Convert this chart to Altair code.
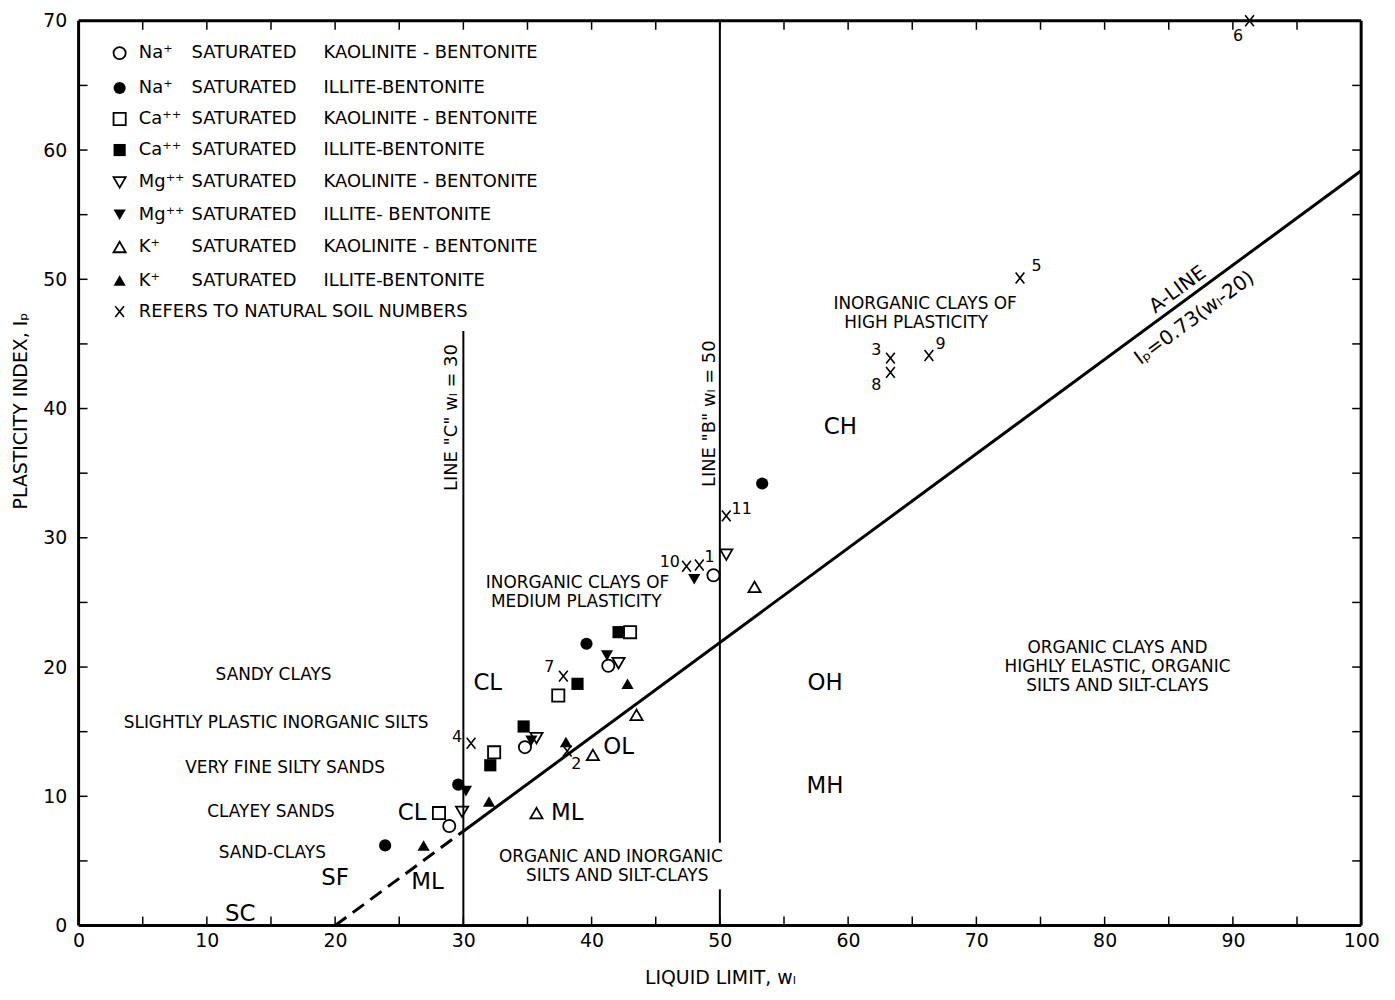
import altair as alt
import pandas as pd

W, H = 1290, 910
FONT = "DejaVu Sans"

# ---------------- data ----------------
# laboratory mixtures (liquid limit, plasticity index)
na_kao_x = [28.9, 34.8, 41.3, 49.5]
na_kao_y = [7.7, 13.8, 20.1, 27.1]
na_ill_x = [23.9, 29.6, 39.6, 53.3]
na_ill_y = [6.2, 10.9, 21.8, 34.2]
ca_kao_x = [28.1, 32.4, 37.4, 43.0]
ca_kao_y = [8.7, 13.4, 17.8, 22.7]
ca_ill_x = [32.1, 34.7, 38.9, 42.1]
ca_ill_y = [12.4, 15.4, 18.7, 22.7]
mg_kao_x = [29.9, 35.7, 42.1, 50.5]
mg_kao_y = [8.8, 14.5, 20.3, 28.7]
mg_ill_x = [30.2, 35.3, 41.2, 48.0]
mg_ill_y = [10.4, 14.3, 20.9, 26.8]
k_kao_x = [35.7, 40.1, 43.5, 52.7]
k_kao_y = [8.7, 13.2, 16.3, 26.2]
k_ill_x = [26.9, 32.0, 38.0, 42.8]
k_ill_y = [6.2, 9.6, 14.2, 18.7]

# natural soils
soil_ids = ["1", "2", "3", "4", "5", "6", "7", "8", "9", "10", "11"]
soil_x = [48.4, 38.1, 63.3, 30.6, 73.4, 91.3, 37.8, 63.3, 66.3, 47.4, 50.5]
soil_y = [27.9, 13.5, 43.9, 14.1, 50.1, 70.0, 19.3, 42.8, 44.1, 27.8, 31.7]
soil_label_x = [49.2, 38.8, 62.2, 29.5, 74.7, 90.4, 36.7, 62.2, 67.2, 46.1, 51.7]
soil_label_y = [28.5, 12.5, 44.5, 14.6, 51.0, 68.8, 20.0, 41.8, 45.0, 28.1, 32.2]

# reference lines
a_dash_x = [20, 30]
a_dash_y = [0, 7.3]
a_solid_x = [30, 100]
a_solid_y = [7.3, 58.4]
vline_x = [30, 50, 50]
vline_y0 = [0, 0, 6.4]
vline_y1 = [46, 2.8, 70]

# legend
legend_ions = ["Na\u207a", "Na\u207a", "Ca\u207a\u207a", "Ca\u207a\u207a",
               "Mg\u207a\u207a", "Mg\u207a\u207a", "K\u207a", "K\u207a"]
legend_mid = ["SATURATED"] * 8
legend_clays = ["KAOLINITE - BENTONITE", "ILLITE-BENTONITE", "KAOLINITE - BENTONITE",
                "ILLITE-BENTONITE", "KAOLINITE - BENTONITE", "ILLITE- BENTONITE",
                "KAOLINITE - BENTONITE", "ILLITE-BENTONITE"]
legend_soil_text = "REFERS TO NATURAL SOIL NUMBERS"
legend_row_y = [67.5, 64.8, 62.4, 60.0, 57.5, 55.0, 52.5, 49.9, 47.5]
legend_marker_x = 3.2
legend_ion_x = 4.7
legend_mid_x = 8.8
legend_clay_x = 19.1

# zone annotations
small_text = ["INORGANIC CLAYS OF", "HIGH PLASTICITY",
              "INORGANIC CLAYS OF", "MEDIUM PLASTICITY",
              "ORGANIC CLAYS AND", "HIGHLY ELASTIC, ORGANIC", "SILTS AND SILT-CLAYS",
              "ORGANIC AND INORGANIC", "SILTS AND SILT-CLAYS",
              "SANDY CLAYS", "SLIGHTLY PLASTIC INORGANIC SILTS", "VERY FINE SILTY SANDS",
              "CLAYEY SANDS", "SAND-CLAYS"]
small_x = [66.0, 65.3, 38.9, 38.8, 81.0, 81.0, 81.0, 41.5, 42.0, 15.2, 15.4, 16.1, 15.0, 15.1]
small_y = [48.1, 46.6, 26.5, 25.0, 21.5, 20.0, 18.5, 5.3, 3.8, 19.4, 15.7, 12.2, 8.8, 5.6]

big_text = ["CH", "OH", "MH", "CL", "OL", "ML", "CL", "SF", "ML", "SC"]
big_x = [59.4, 58.2, 58.2, 31.9, 42.1, 38.1, 26.0, 20.0, 27.2, 12.6]
big_y = [38.6, 18.8, 10.8, 18.8, 13.8, 8.7, 8.7, 3.7, 3.4, 0.9]

line_label_text = ['LINE "C" w\u2097 = 30', 'LINE "B" w\u2097 = 50']
line_label_x = [29.1, 49.2]
line_label_y = [39.3, 39.6]

aline_text = ["A-LINE", "I\u209a=0.73(w\u2097-20)"]
aline_x = [85.7, 87.0]
aline_y = [49.2, 47.0]

tick_x = [5, 10, 15, 20, 25, 30, 35, 40, 45, 50, 55, 60, 65, 70, 75, 80, 85, 90, 95]
tick_y = [5, 10, 15, 20, 25, 30, 35, 40, 45, 50, 55, 60, 65]

# ---------------- build tables ----------------
X_PATH = "M-0.8,-1L0.8,1M-0.8,1L0.8,-1"
series = [
    ("circle", False, na_kao_x, na_kao_y),
    ("circle", True, na_ill_x, na_ill_y),
    ("square", False, ca_kao_x, ca_kao_y),
    ("square", True, ca_ill_x, ca_ill_y),
    ("triangle-down", False, mg_kao_x, mg_kao_y),
    ("triangle-down", True, mg_ill_x, mg_ill_y),
    ("triangle-up", False, k_kao_x, k_kao_y),
    ("triangle-up", True, k_ill_x, k_ill_y),
]
rows = []
for i, (shape, filled, xs_, ys_) in enumerate(series):
    for a, b in zip(xs_, ys_):
        rows.append({"x": a, "y": b, "shape": shape, "filled": filled})
    rows.append({"x": legend_marker_x, "y": legend_row_y[i], "shape": shape, "filled": filled})
pts = pd.DataFrame(rows)
open_pts = pts[~pts["filled"]]
fill_pts = pts[pts["filled"]]

soil_df = pd.DataFrame({"x": soil_x + [legend_marker_x], "y": soil_y + [legend_row_y[8]]})
soil_lab = pd.DataFrame({"x": soil_label_x, "y": soil_label_y, "t": soil_ids})

xs = alt.Scale(domain=[0, 100], nice=False, zero=False)
ys = alt.Scale(domain=[0, 70], nice=False, zero=False)

x_axis = alt.Axis(values=list(range(0, 101, 10)), tickSize=0, domain=False, grid=False,
                  labelFont=FONT, labelFontSize=19, labelPadding=6, labelFlush=False,
                  labelColor="black", title="LIQUID LIMIT, w\u2097", titleFont=FONT,
                  titleFontSize=19, titleFontWeight="normal", titlePadding=18,
                  titleColor="black")
y_axis = alt.Axis(values=list(range(0, 71, 10)), tickSize=0, domain=False, grid=False,
                  labelFont=FONT, labelFontSize=19, labelPadding=12, labelFlush=False,
                  labelColor="black", title="PLASTICITY INDEX, I\u209a", titleFont=FONT,
                  titleFontSize=19, titleFontWeight="normal", titleColor="black",
                  titleX=-58, titleY=392, titleAngle=270, titleAlign="center",
                  titleBaseline="middle")


def X(f="x"):
    return alt.X(f, type="quantitative", scale=xs, axis=x_axis)


def Y(f="y"):
    return alt.Y(f, type="quantitative", scale=ys, axis=y_axis)


layers = []
one = pd.DataFrame({"k": [0]})

# frame
layers.append(alt.Chart(one).mark_rule(color="black", strokeWidth=3).encode(
    x=alt.value(0), x2=alt.value(W), y=alt.value(0)))
layers.append(alt.Chart(one).mark_rule(color="black", strokeWidth=3).encode(
    x=alt.value(0), x2=alt.value(W), y=alt.value(H)))
layers.append(alt.Chart(one).mark_rule(color="black", strokeWidth=3).encode(
    y=alt.value(0), y2=alt.value(H), x=alt.value(0)))
layers.append(alt.Chart(one).mark_rule(color="black", strokeWidth=3).encode(
    y=alt.value(0), y2=alt.value(H), x=alt.value(W)))

# inward ticks on all four sides
tx = pd.DataFrame({"x": tick_x})
ty = pd.DataFrame({"y": tick_y})
layers.append(alt.Chart(tx).mark_rule(color="black", strokeWidth=1.5).encode(
    x=X(), y=alt.value(H), y2=alt.value(H - 9)))
layers.append(alt.Chart(tx).mark_rule(color="black", strokeWidth=1.5).encode(
    x=X(), y=alt.value(0), y2=alt.value(9)))
layers.append(alt.Chart(ty).mark_rule(color="black", strokeWidth=1.5).encode(
    y=Y(), x=alt.value(0), x2=alt.value(9)))
layers.append(alt.Chart(ty).mark_rule(color="black", strokeWidth=1.5).encode(
    y=Y(), x=alt.value(W), x2=alt.value(W - 9)))

# vertical lines C and B
vl = pd.DataFrame({"x": vline_x, "y": vline_y0, "y2": vline_y1})
layers.append(alt.Chart(vl).mark_rule(color="black", strokeWidth=2).encode(
    x=X(), y=Y(), y2="y2:Q"))

# A-line
ad = pd.DataFrame({"x": a_dash_x, "y": a_dash_y})
asl = pd.DataFrame({"x": a_solid_x, "y": a_solid_y})
layers.append(alt.Chart(ad).mark_line(color="black", strokeWidth=3, strokeDash=[14, 8]).encode(
    x=X(), y=Y()))
layers.append(alt.Chart(asl).mark_line(color="black", strokeWidth=3).encode(x=X(), y=Y()))

# markers
layers.append(alt.Chart(open_pts).mark_point(filled=False, color="black", strokeWidth=1.8,
                                             size=150, opacity=1).encode(
    x=X(), y=Y(), shape=alt.Shape("shape:N", scale=None)))
layers.append(alt.Chart(fill_pts).mark_point(filled=True, color="black", size=150,
                                             opacity=1).encode(
    x=X(), y=Y(), shape=alt.Shape("shape:N", scale=None)))
layers.append(alt.Chart(soil_df).mark_point(shape=X_PATH, filled=False, color="black",
                                            strokeWidth=1.6, size=120, opacity=1,
                                            clip=False).encode(x=X(), y=Y()))
layers.append(alt.Chart(soil_lab).mark_text(font=FONT, fontSize=16, color="black").encode(
    x=X(), y=Y(), text="t:N"))

# legend text
n = len(legend_ions)
leg = pd.DataFrame({"y": legend_row_y[:n], "ion": legend_ions, "mid": legend_mid,
                    "clay": legend_clays})
for col, lx in (("ion", legend_ion_x), ("mid", legend_mid_x), ("clay", legend_clay_x)):
    layers.append(alt.Chart(leg).mark_text(font=FONT, fontSize=18, align="left",
                                           color="black").encode(
        x=alt.datum(lx, type="quantitative", scale=xs), y=Y(), text=f"{col}:N"))
leg2 = pd.DataFrame({"x": [legend_ion_x], "y": [legend_row_y[8]], "t": [legend_soil_text]})
layers.append(alt.Chart(leg2).mark_text(font=FONT, fontSize=18, align="left", color="black").encode(
    x=X(), y=Y(), text="t:N"))

# zone annotations
sdf = pd.DataFrame({"x": small_x, "y": small_y, "t": small_text})
layers.append(alt.Chart(sdf).mark_text(font=FONT, fontSize=17, color="black").encode(
    x=X(), y=Y(), text="t:N"))
bdf = pd.DataFrame({"x": big_x, "y": big_y, "t": big_text})
layers.append(alt.Chart(bdf).mark_text(font=FONT, fontSize=23, color="black").encode(
    x=X(), y=Y(), text="t:N"))
ldf = pd.DataFrame({"x": line_label_x, "y": line_label_y, "t": line_label_text})
layers.append(alt.Chart(ldf).mark_text(font=FONT, fontSize=18, angle=270, color="black").encode(
    x=X(), y=Y(), text="t:N"))
adf = pd.DataFrame({"x": aline_x, "y": aline_y, "t": aline_text})
layers.append(alt.Chart(adf).mark_text(font=FONT, fontSize=20, angle=323.6, color="black").encode(
    x=X(), y=Y(), text="t:N"))

chart = alt.layer(*layers).properties(
    width=W, height=H,
    autosize=alt.AutoSizeParams(type="none"),
    padding={"left": 71, "top": 10, "right": 26, "bottom": 70},
).configure_view(strokeWidth=0).configure(background="white")

chart.save("out.html", embed_options={"renderer": "svg", "actions": False})
